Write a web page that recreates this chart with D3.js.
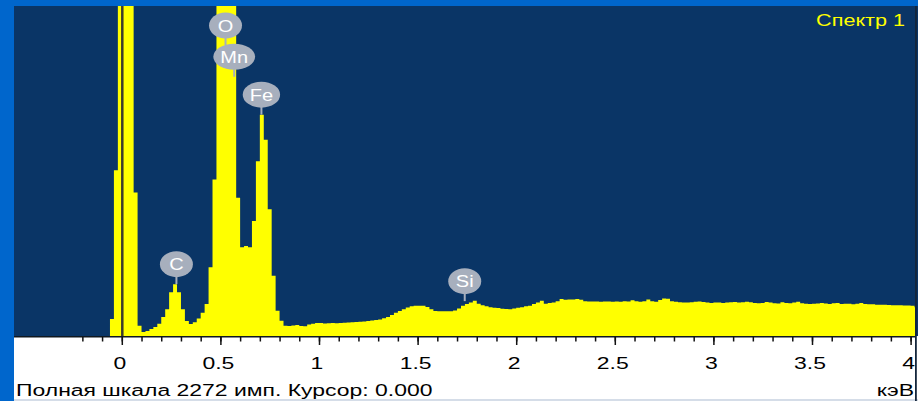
<!DOCTYPE html>
<html>
<head>
<meta charset="utf-8">
<script src="https://cdn.jsdelivr.net/npm/d3@7"></script>
<style>
html, body { margin: 0; padding: 0; background: #0066cc; overflow: hidden; }
text { font-family: "Liberation Sans", Arial, sans-serif; }
</style>
</head>
<body>
<svg id="chart" width="918" height="401"></svg>
<script>
// EDX spectrum, 20 eV channels starting at -0.08 keV
const channelStart = -0.08;
const channelWidth = 0.02;
const counts = [
	0, 117, 1141, 4000, 4000, 4000, 4000, 988, 70, 27,          // -0.08 .. 0.10
	35, 48, 62, 85, 130, 185, 302, 357, 302, 185,               // 0.12 .. 0.30
	103, 82, 95, 120, 160, 220, 474, 1078, 4000, 4000,          // 0.32 .. 0.50
	4000, 4000, 4000, 952, 611, 620, 611, 791, 1203, 1524,      // 0.52 .. 0.70
	1352, 872, 414, 174, 105, 71, 69, 72, 75, 69,               // 0.72 .. 0.90
	67, 80, 85, 89, 89, 86, 88, 90, 88, 89,                     // 0.92 .. 1.10
	92, 93, 95, 96, 98, 100, 103, 106, 110, 114,                // 1.12 .. 1.30
	122, 130, 145, 160, 172, 185, 197, 205, 208, 208,           // 1.32 .. 1.50
	208, 200, 185, 172, 170, 170, 170, 170, 175, 190,           // 1.52 .. 1.70
	208, 220, 230, 242, 222, 212, 204, 198, 194, 192,           // 1.72 .. 1.90
	188, 186, 185, 190, 195, 198, 204, 208, 220, 231,           // 1.92 .. 2.10
	242, 222, 228, 231, 240, 254, 250, 252, 252, 254,           // 2.12 .. 2.30
	250, 240, 238, 238, 238, 236, 238, 237, 236, 238,           // 2.32 .. 2.50
	236, 240, 238, 246, 240, 236, 240, 252, 240, 236,           // 2.52 .. 2.70
	248, 258, 256, 240, 236, 232, 230, 230, 232, 236,           // 2.72 .. 2.90
	238, 234, 230, 228, 230, 230, 228, 230, 232, 234,           // 2.92 .. 3.10
	230, 232, 236, 232, 228, 226, 228, 234, 230, 226,           // 3.12 .. 3.30
	224, 232, 228, 225, 230, 236, 226, 222, 220, 222,           // 3.32 .. 3.50
	224, 228, 224, 220, 226, 228, 220, 222, 222, 218,           // 3.52 .. 3.70
	222, 228, 220, 218, 218, 216, 216, 215, 214, 212,           // 3.72 .. 3.90
	212, 212, 210, 210, 208, 198                                // 3.92 .. 4.02
];
const fullScale = 2272;
const cursorKeV = 0;

const majorTicks = [0, 0.5, 1, 1.5, 2, 2.5, 3, 3.5, 4];
const minorTicks = d3.range(-2, 41).map(d => d / 10);

// peak markers
const elementNames = ["C", "O", "Mn", "Fe", "Si"];
const elementKeV = [0.277, 0.526, 0.57, 0.708, 1.739];
const elementLevel = [357, 2000, 1785, 1524, 240];

const spectrumName = "Спектр 1";
const unitLabel = "кэВ";
const statusText = "Полная шкала " + fullScale + " имп. Курсор: " + cursorKeV.toFixed(3);

// layout
const W = 918, H = 401;
const plot = { left: 14, top: 6, right: 915, bottom: 336 };
const SX = 1.35; // the screenshot is stretched horizontally

const svg = d3.select("#chart");

const x = d3.scaleLinear().domain([0, 4]).range([121.8, 910.6]);
const y = d3.scaleLinear().domain([0, fullScale]).range([plot.bottom, plot.top]);

// backgrounds
svg.append("rect").attr("width", W).attr("height", H).attr("fill", "#0066cc");
svg.append("rect")
	.attr("x", plot.left).attr("y", plot.top)
	.attr("width", W - plot.left).attr("height", plot.bottom - plot.top)
	.attr("fill", "#0a3566");
svg.append("rect")
	.attr("x", plot.left).attr("y", plot.bottom)
	.attr("width", W - plot.left).attr("height", H - plot.bottom)
	.attr("fill", "#ffffff");
svg.append("rect")
	.attr("x", plot.left).attr("y", H - 2)
	.attr("width", W - plot.left).attr("height", 2)
	.attr("fill", "#d5dde8");

svg.append("clipPath").attr("id", "plotClip")
	.append("rect")
	.attr("x", plot.left).attr("y", plot.top)
	.attr("width", plot.right - plot.left).attr("height", plot.bottom - plot.top);

// spectrum
var pts = counts.map((c, i) => ({ e: channelStart + i * channelWidth, c: c }));
pts.push({ e: channelStart + counts.length * channelWidth, c: counts[counts.length - 1] });

var area = d3.area()
	.x(d => x(d.e))
	.y0(y(0))
	.y1(d => y(d.c))
	.curve(d3.curveStepAfter);

svg.append("path")
	.datum(pts)
	.attr("clip-path", "url(#plotClip)")
	.attr("fill", "#ffff00")
	.attr("d", area);

// cursor
svg.append("line")
	.attr("x1", x(cursorKeV) + 0.5).attr("x2", x(cursorKeV) + 0.5)
	.attr("y1", plot.top).attr("y2", plot.bottom)
	.attr("stroke", "#3c3c2c")
	.attr("stroke-width", 2.5);

// frame lines
svg.append("rect")
	.attr("x", plot.left).attr("y", plot.bottom)
	.attr("width", plot.right - plot.left).attr("height", 1.5)
	.attr("fill", "#101820");
svg.append("rect")
	.attr("x", plot.right).attr("y", plot.top)
	.attr("width", 1.8).attr("height", H - plot.top)
	.attr("fill", "#14263c");

// axis
var axisG = svg.append("g").attr("transform", "translate(0," + (plot.bottom + 1) + ")");
axisG.append("g")
	.call(d3.axisBottom(x).tickValues(minorTicks).tickSize(4.5).tickFormat(""))
	.call(g => g.select(".domain").remove());
var majorG = axisG.append("g")
	.call(d3.axisBottom(x).tickValues(majorTicks).tickSize(8).tickFormat(d3.format("~g")))
	.call(g => g.select(".domain").remove());
axisG.selectAll(".tick line").attr("stroke", "#111").attr("stroke-width", 1.5);
majorG.selectAll(".tick text")
	.attr("y", 32)
	.attr("dy", 0)
	.attr("x", -2.5 / SX)
	.attr("transform", "scale(" + SX + ",1)")
	.attr("fill", "#000")
	.style("font-size", "17px")
	.style("font-family", "'Liberation Sans', Arial, sans-serif");

// texts
svg.append("text")
	.attr("transform", "translate(905,25.5) scale(" + SX + ",1)")
	.attr("text-anchor", "end")
	.attr("fill", "#ffff00")
	.style("font-size", "16px")
	.text(spectrumName);

svg.append("text")
	.attr("transform", "translate(16,396) scale(" + SX + ",1)")
	.attr("fill", "#000")
	.style("font-size", "17px")
	.text(statusText);

svg.append("text")
	.attr("transform", "translate(914,396) scale(" + SX + ",1)")
	.attr("text-anchor", "end")
	.attr("fill", "#000")
	.style("font-size", "17px")
	.text(unitLabel);

// element markers
var bubbleColor = "#a7afbd";
elementNames.forEach(function(name, i) {
	var px = x(elementKeV[i]);
	var py = y(elementLevel[i]);
	var g = svg.append("g").attr("transform", "translate(" + px + "," + (py - 20) + ")");
	g.append("line")
		.attr("x1", 0).attr("x2", 0)
		.attr("y1", 8).attr("y2", 20)
		.attr("stroke", bubbleColor)
		.attr("stroke-width", 2);
	var ell = g.append("ellipse")
		.attr("cx", 0).attr("cy", 0)
		.attr("ry", 13)
		.attr("fill", bubbleColor);
	var t = g.append("text")
		.attr("transform", "translate(0,6) scale(1.25,1)")
		.attr("text-anchor", "middle")
		.attr("fill", "#ffffff")
		.style("font-size", "16px")
		.text(name);
	var tw = t.node().getComputedTextLength() * 1.25;
	ell.attr("rx", Math.max(16.5, tw / 2 + 7));
});
</script>
</body>
</html>
